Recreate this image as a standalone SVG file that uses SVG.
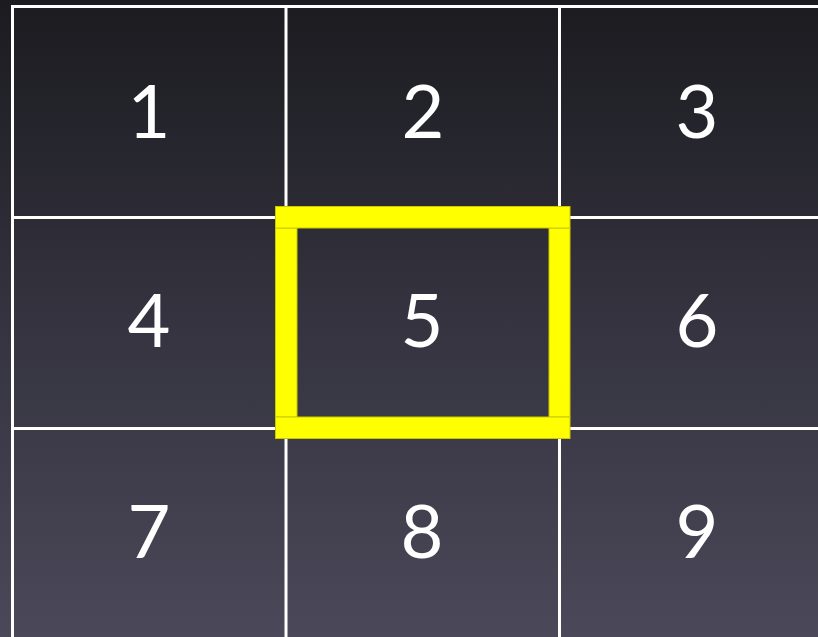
<svg xmlns="http://www.w3.org/2000/svg" width="818" height="637" viewBox="0 0 818 637">
<defs>
<linearGradient id="bg" x1="0" y1="0" x2="0" y2="1">
<stop offset="0" stop-color="#1b1b20"/>
<stop offset="0.5" stop-color="#34333f"/>
<stop offset="1" stop-color="#4b4859"/>
</linearGradient>
<style>
.grid{stroke:#ffffff;stroke-width:3;fill:none}
.num{font-family:Lato,"Open Sans","DejaVu Sans",sans-serif;font-size:74px;fill:#ffffff;text-anchor:middle}
.hl{fill:#ffff00;stroke:#c8c800;stroke-width:1}
</style>
</defs>
<rect x="0" y="0" width="818" height="637" fill="url(#bg)"/>
<g id="connectors">
<path class="grid" d="M12.5 637V6.5H818M286 6.5V637M559.5 6.5V637M12.5 217.5H818M12.5 428.5H818"/>
</g>
<g id="cell1"><text class="num" x="149" y="138">1</text></g>
<g id="cell2"><text class="num" x="423" y="138">2</text></g>
<g id="cell3"><text class="num" x="697" y="138">3</text></g>
<g id="cell4"><text class="num" x="149" y="347">4</text></g>
<g id="cell5"><text class="num" x="422" y="347">5</text></g>
<g id="cell6"><text class="num" x="697" y="347">6</text></g>
<g id="cell7"><text class="num" x="149" y="558">7</text></g>
<g id="cell8"><text class="num" x="422" y="558">8</text></g>
<g id="cell9"><text class="num" x="697" y="558">9</text></g>
<g id="highlight">
<rect class="hl" x="275.5" y="228" width="21.5" height="189"/>
<rect class="hl" x="549" y="228" width="21" height="189"/>
<rect class="hl" x="275.5" y="206.5" width="294.5" height="21.5"/>
<rect class="hl" x="275.5" y="417" width="294.5" height="21.5"/>
</g>
</svg>
